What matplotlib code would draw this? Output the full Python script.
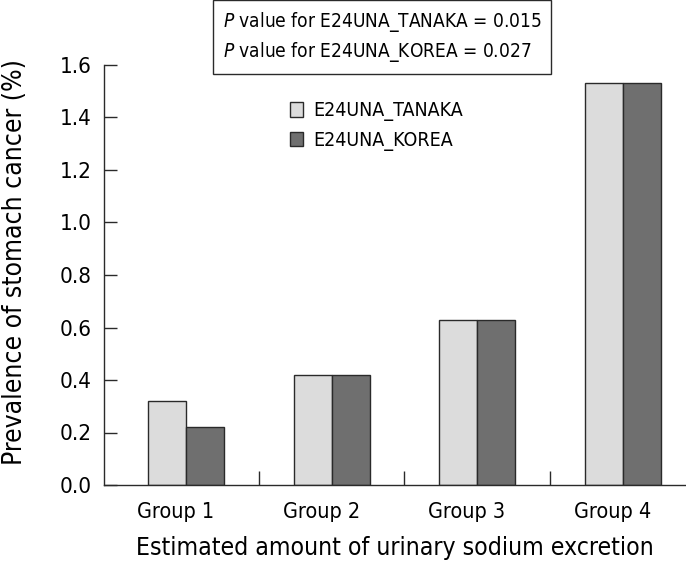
import numpy as np
import matplotlib.pyplot as plt
from matplotlib.patches import Patch

plt.rcParams['font.family'] = ['DejaVu Sans']
plt.rcParams['font.stretch'] = 'condensed'

groups = ['Group 1', 'Group 2', 'Group 3', 'Group 4']
tanaka = [0.32, 0.42, 0.63, 1.53]
korea = [0.22, 0.42, 0.63, 1.53]
y_ticks = [0.0, 0.2, 0.4, 0.6, 0.8, 1.0, 1.2, 1.4, 1.6]

light = '#dcdcdc'
dark = '#6f6f6f'
edge = '#2a2a2a'

fig = plt.figure(figsize=(6.86, 5.62), dpi=100)
ax = fig.add_axes([104 / 686, 77 / 562, 582 / 686, 420 / 562])

x = np.arange(len(groups))
w = 0.261
ax.bar(x - w / 2, tanaka, w, color=light, edgecolor=edge, linewidth=1.0)
ax.bar(x + w / 2, korea, w, color=dark, edgecolor=edge, linewidth=1.0)

ax.set_xlim(-0.564, 3.436)
ax.set_ylim(0, 1.6)
ax.spines['top'].set_visible(False)
ax.spines['right'].set_visible(False)
for s in ['left', 'bottom']:
    ax.spines[s].set_linewidth(1.0)
    ax.spines[s].set_color(edge)

ax.set_yticks(y_ticks)
ax.set_yticklabels([f'{v:.1f}' for v in y_ticks], fontsize=16)
ax.tick_params(axis='y', direction='in', length=9, width=1.0, color=edge, pad=9)

# separators between groups; group names on minor ticks
ax.set_xticks([0.5, 1.5, 2.5])
ax.set_xticklabels([])
ax.tick_params(axis='x', which='major', direction='in', length=10, width=1.0, color=edge)
ax.set_xticks(x - 0.07, minor=True)
ax.set_xticklabels(groups, minor=True, fontsize=15.5)
ax.tick_params(axis='x', which='minor', length=0, pad=12)

ax.set_xlabel('Estimated amount of urinary sodium excretion', fontsize=17.7, labelpad=10)
ax.set_ylabel('Prevalence of stomach cancer (%)', fontsize=19)
ax.yaxis.set_label_coords(-0.13, 0.53)

handles = [Patch(facecolor=light, edgecolor=edge, label='E24UNA_TANAKA'),
           Patch(facecolor=dark, edgecolor=edge, label='E24UNA_KOREA')]
ax.legend(handles=handles, loc='upper left', bbox_to_anchor=(0.29, 0.955),
          frameon=False, fontsize=14, handlelength=0.65, handleheight=0.75,
          handletextpad=0.55, labelspacing=0.5)

fig.text(223 / 686, 1 - 37 / 562,
         '$\\it{P}$ value for E24UNA_TANAKA = 0.015\n$\\it{P}$ value for E24UNA_KOREA = 0.027',
         ha='left', va='center', multialignment='left', fontsize=13.7, linespacing=1.4,
         bbox=dict(boxstyle='square,pad=0.5', facecolor='white', edgecolor=edge, linewidth=1.0))

fig.savefig('out.png', dpi=100)
